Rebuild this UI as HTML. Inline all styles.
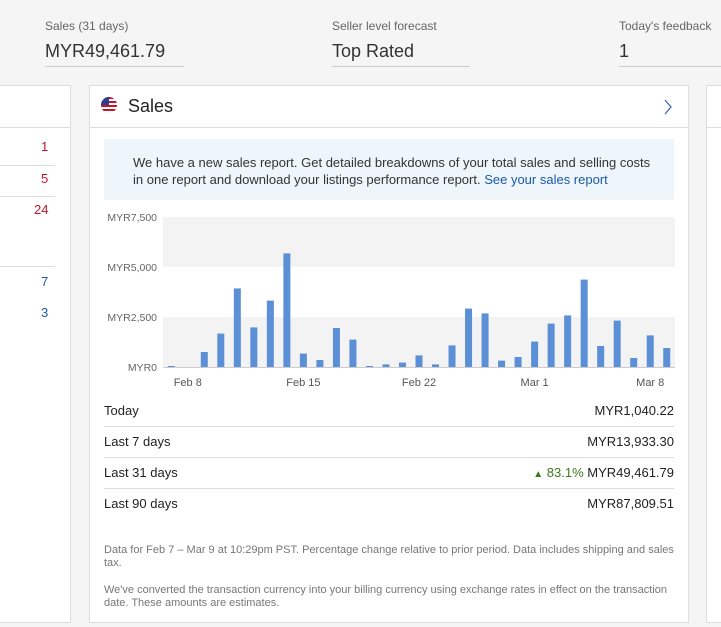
<!DOCTYPE html>
<html><head><meta charset="utf-8"><style>
body{margin:0;width:721px;height:627px;background:#f5f5f5;font-family:"Liberation Sans",sans-serif;color:#333;position:relative;overflow:hidden}
.a{position:absolute}
.lbl{font-size:12px;color:#666}
.big{font-size:18px;color:#333}
.ul{height:1px;background:#ccc}
.card{background:#fff;border:1px solid #ddd}
.row{position:absolute;left:104px;width:570px;height:31px;border-bottom:1px solid #ddd;font-size:13px;color:#222}
.row .l{position:absolute;left:0;top:8px}
.row .r{position:absolute;right:0;top:8px}
.hl{position:absolute;left:0;width:56px;height:1px;background:#ddd}
</style></head><body>
<div class="a lbl" style="left:45px;top:19px">Sales (31 days)</div>
<div class="a big" style="left:45px;top:41px">MYR49,461.79</div>
<div class="a ul" style="left:45px;top:66px;width:139px"></div>
<div class="a lbl" style="left:332px;top:19px">Seller level forecast</div>
<div class="a big" style="left:332px;top:41px">Top Rated</div>
<div class="a ul" style="left:332px;top:66px;width:138px"></div>
<div class="a lbl" style="left:619px;top:19px">Today's feedback</div>
<div class="a big" style="left:619px;top:41px">1</div>
<div class="a ul" style="left:619px;top:66px;width:102px"></div>

<div class="a card" style="left:-2px;top:85px;width:71px;height:536px">
 <div class="a" style="left:0;top:41px;width:71px;height:1px;background:#ddd"></div>
 <div class="hl" style="top:79px"></div><div class="hl" style="top:110px"></div>
 <div class="hl" style="top:180px"></div>
 <div class="a" style="left:42px;top:53px;font-size:13px;color:#c0152a">1</div>
 <div class="a" style="left:42px;top:85px;font-size:13px;color:#c0152a">5</div>
 <div class="a" style="left:35px;top:116px;font-size:13px;color:#c0152a">24</div>
 <div class="a" style="left:42px;top:188px;font-size:13px;color:#1a5aa8">7</div>
 <div class="a" style="left:42px;top:219px;font-size:13px;color:#1a5aa8">3</div>
</div>
<div class="a card" style="left:706px;top:85px;width:30px;height:536px"><div class="a" style="left:0;top:41px;width:30px;height:1px;background:#ddd"></div></div>

<div class="a card" style="left:89px;top:85px;width:598px;height:536px"></div>
<div class="a" style="left:101px;top:97px;width:16px;height:16px;border-radius:50%;background:repeating-linear-gradient(#c0152a 0 2px,#fff 2px 4px);overflow:hidden"><div style="width:8px;height:8px;background:#2a3f8f"></div></div>
<div class="a" style="left:128px;top:96px;font-size:18px;color:#222">Sales</div>
<svg class="a" style="left:663px;top:99px" width="10" height="16"><polyline points="2,1 8,8 2,15" fill="none" stroke="#3a6db5" stroke-width="1.3"/></svg>
<div class="a" style="left:90px;top:127px;width:598px;height:1px;background:#ddd"></div>
<div class="a" style="left:104px;top:139px;width:570px;height:61px;background:#eef5fb">
 <div style="position:absolute;left:29px;top:15px;font-size:13px;line-height:17px;color:#333;width:530px">We have a new sales report. Get detailed breakdowns of your total sales and selling costs in one report and download your listings performance report. <span style="color:#1a5aa8">See your sales report</span></div>
</div>

<svg class="a" style="left:90px;top:200px" width="598" height="195" id="chart"></svg>

<div class="row" style="top:395px"><span class="l">Today</span><span class="r">MYR1,040.22</span></div>
<div class="row" style="top:426px"><span class="l">Last 7 days</span><span class="r">MYR13,933.30</span></div>
<div class="row" style="top:457px"><span class="l">Last 31 days</span><span class="r"><span style="color:#3a7a1a"><span style="font-size:10px">▲</span> 83.1%</span> MYR49,461.79</span></div>
<div class="row" style="top:488px;border:none"><span class="l">Last 90 days</span><span class="r">MYR87,809.51</span></div>
<div class="a" style="left:104px;top:544px;width:570px;font-size:11px;line-height:13px;color:#777">Data for Feb 7 – Mar 9 at 10:29pm PST. Percentage change relative to prior period. Data includes shipping and sales tax.</div>
<div class="a" style="left:104px;top:584px;width:570px;font-size:11px;line-height:13px;color:#777">We've converted the transaction currency into your billing currency using exchange rates in effect on the transaction date. These amounts are estimates.</div>

<script>
const days=["Feb 7","Feb 8","Feb 9","Feb 10","Feb 11","Feb 12","Feb 13","Feb 14","Feb 15","Feb 16","Feb 17","Feb 18","Feb 19","Feb 20","Feb 21","Feb 22","Feb 23","Feb 24","Feb 25","Feb 26","Feb 27","Feb 28","Mar 1","Mar 2","Mar 3","Mar 4","Mar 5","Mar 6","Mar 7","Mar 8","Mar 9"];
const sales=[50,0,750,1670,3930,1980,3320,5680,670,350,1950,1370,50,130,220,580,130,1080,2920,2680,320,500,1270,2170,2580,4370,1050,2320,450,1580,950];
const yTicks=[0,2500,5000,7500];
const yTickLabels=["MYR0","MYR2,500","MYR5,000","MYR7,500"];
const xTickLabels=["Feb 8","Feb 15","Feb 22","Mar 1","Mar 8"];
const svg=document.getElementById('chart');const NS='http://www.w3.org/2000/svg';
const L=73,R=585,T=17,B=167;
const y=v=>B-(v/7500)*(B-T);
const step=(R-L)/days.length;
const x=i=>L+step*(i+0.5);
function mk(t,a){const e=document.createElementNS(NS,t);for(const k in a)e.setAttribute(k,a[k]);svg.appendChild(e);return e;}
for(let i=0;i<yTicks.length-1;i+=2){const r=mk('rect',{x:L,y:y(yTicks[i+1]),width:R-L,height:y(yTicks[i])-y(yTicks[i+1]),fill:'#f3f3f3'});

}
{const r=mk('rect',{x:L,y:y(7500),width:R-L,height:y(5000)-y(7500),fill:'#f3f3f3'});

}
yTicks.forEach((v,i)=>{const t=mk('text',{x:L-6,y:y(v)+4,'text-anchor':'end','font-size':'10.5','fill':'#666','font-family':'Liberation Sans'});t.textContent=yTickLabels[i];

});
sales.forEach((v,i)=>{const r=mk('rect',{x:x(i)-3.5,y:y(v),width:7,height:B-y(v),fill:'#5b8fd6'});

});
mk('line',{x1:L,x2:R,y1:B+0.5,y2:B+0.5,stroke:'#ccc'});
xTickLabels.forEach(lb=>{const i=days.indexOf(lb);const t=mk('text',{x:x(i),y:B+19,'text-anchor':'middle','font-size':'11','fill':'#555','font-family':'Liberation Sans'});t.textContent=lb;

});
</script>
</body></html>
